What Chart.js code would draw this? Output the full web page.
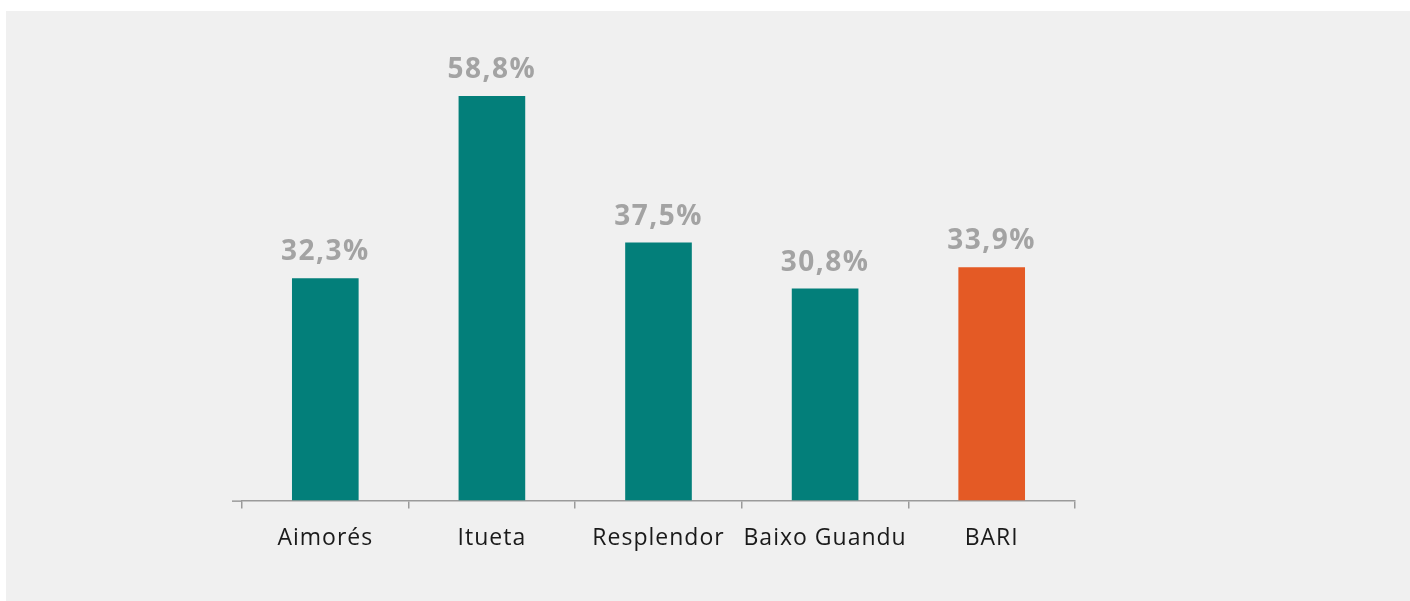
<!DOCTYPE html>
<html>
<head>
<meta charset="utf-8">
<script src="https://cdn.jsdelivr.net/npm/chart.js@4/dist/chart.umd.min.js"></script>
<style>
  html, body { margin: 0; padding: 0; background: #ffffff; }
  #chart_box {
    position: absolute;
    left: 6px; top: 11px;
    width: 1404px; height: 590px;
    background: #f0f0f0;
  }
</style>
</head>
<body>
<div id="chart_box"><canvas id="rate_canvas"></canvas></div>
<script>

var city_labels = ['Aimorés', 'Itueta', 'Resplendor', 'Baixo Guandu', 'BARI'];
var city_rates = [32.3, 58.8, 37.5, 30.8, 33.9];
var bar_colors = ['#037f7a', '#037f7a', '#037f7a', '#037f7a', '#e45a25'];

var format_rate = function(value)
{
  return value.toFixed(1).replace('.', ',') + '%';
};

// a bit of letter spacing on every text, like the original
var wide_text = {
  id: 'wide_text',
  beforeDraw: function(chart)
  {
    chart.ctx.letterSpacing = '1px';
  }
};

// value labels above each bar + the small axis overhang on the left
var bar_value_labels = {
  id: 'bar_value_labels',
  afterDatasetsDraw: function(chart)
  {
    var ctx = chart.ctx;
    var meta = chart.getDatasetMeta(0);
    var area = chart.chartArea;
    ctx.save();
    ctx.strokeStyle = '#9a9a9a';
    ctx.lineWidth = 1.5;
    ctx.beginPath();
    ctx.moveTo(area.left - 10, area.bottom + 0.75);
    ctx.lineTo(area.left, area.bottom + 0.75);
    ctx.stroke();

    ctx.letterSpacing = '1.5px';
    ctx.font = 'bold 28px "Open Sans"';
    ctx.fillStyle = '#a3a3a3';
    ctx.textAlign = 'center';
    ctx.textBaseline = 'alphabetic';
    meta.data.forEach(function(bar, i)
    {
      ctx.fillText(format_rate(city_rates[i]), bar.x, bar.y - 18);
    });
    ctx.restore();
  }
};

var rate_chart = document.getElementById('rate_canvas').getContext('2d');

new Chart(rate_chart, {
  type: 'bar',
  data: {
    labels: city_labels,
    datasets: [
      {
        label: '',
        data: city_rates,
        backgroundColor: bar_colors,
        borderWidth: 0,
        barPercentage: 0.4,
        categoryPercentage: 1.0
      }]
  },
  options: {
    responsive: true,
    maintainAspectRatio: false,
    animation: false,
    layout: {
      padding: { left: 236, right: 335, top: 8, bottom: 33 }
    },
    plugins: {
      legend: { display: false },
      tooltip: { enabled: false }
    },
    scales: {
      x: {
        grid: {
          display: true,
          drawOnChartArea: false,
          drawTicks: true,
          tickLength: 8,
          color: '#9a9a9a',
          lineWidth: 1.5
        },
        border: { display: true, color: '#9a9a9a', width: 1.5 },
        ticks: {
          color: '#1a1a1a',
          font: { family: '"Open Sans"', size: 23 },
          padding: 16,
          maxRotation: 0
        }
      },
      y: {
        display: false,
        min: 0,
        max: 70
      }
    }
  },
  plugins: [wide_text, bar_value_labels]
});

</script>
</body>
</html>
